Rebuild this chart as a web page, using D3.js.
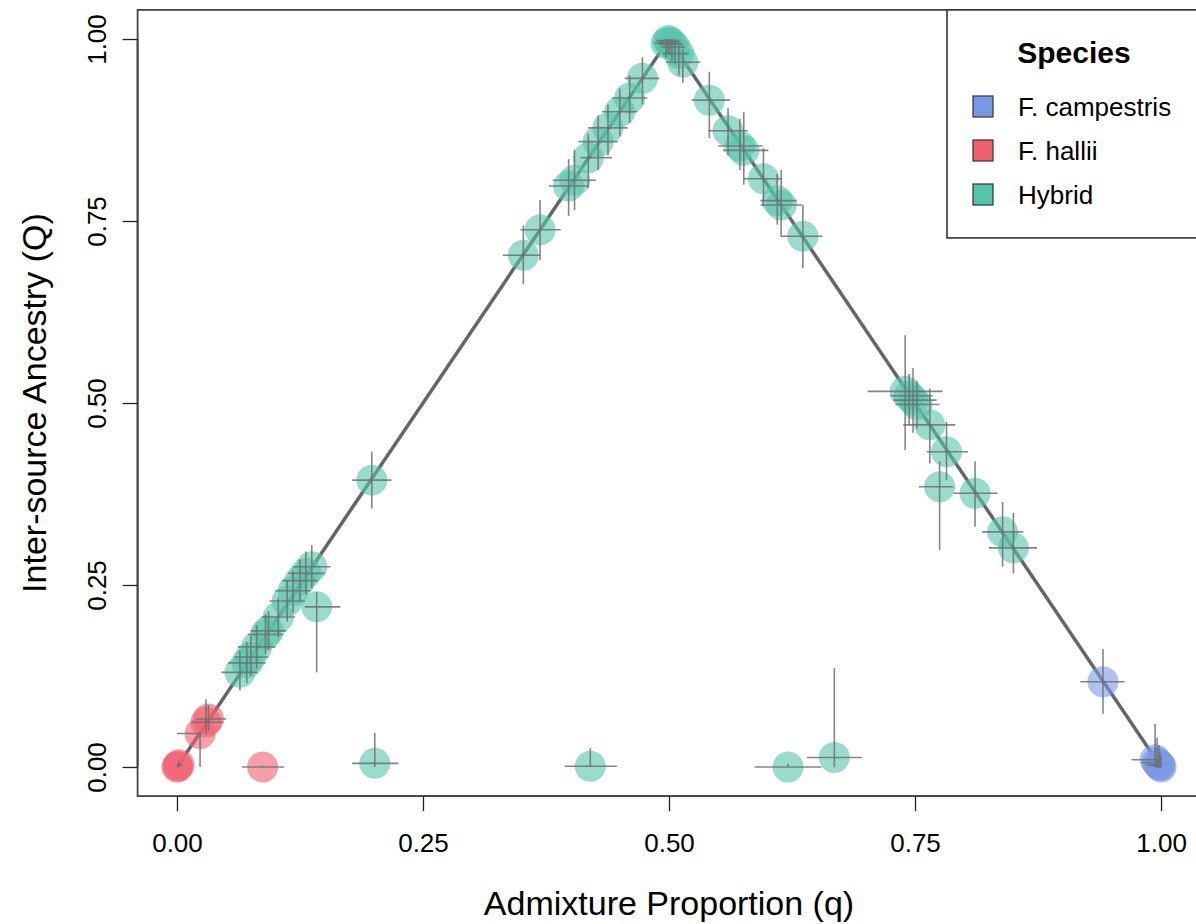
<!DOCTYPE html>
<html><head><meta charset="utf-8">
<script src="https://cdn.jsdelivr.net/npm/d3@7"></script>
<style>body{margin:0;background:#fff}svg{display:block}text{font-family:"Liberation Sans",Arial,sans-serif}</style>
</head><body>
<svg id="c" width="1196" height="924"></svg>
<script>
const species = ["F. campestris", "F. hallii", "Hybrid"];
const speciesColors = ["#7898E4", "#F25F70", "#55C4AA"];
const xTicks = [0, 0.25, 0.5, 0.75, 1];
const yTicks = [0, 0.25, 0.5, 0.75, 1];
const triangle = [[0, 0], [0.5, 1], [1, 0]];

// Points: species index, q, Q, q low, q high, Q low, Q high
const pSpecies = [1,1,1,1,1,1,1,
  2,2,2,2,2,2,2,2,2,2,2,2,2,2,
  2,2,2,2,2,2,2,2,2,2,
  2,2,2,2,2,2,2,
  2,2,2,2,2,2,2,2,2,
  2,2,2,2,2,2,2,2,2,
  0,0,0,0,0,0,
  2,2,2,2];
const pQ = [0.000,0.001,0.002,0.0235,0.0295,0.032,0.087,
  0.064,0.071,0.075,0.081,0.090,0.093,0.103,0.112,0.118,0.125,0.131,0.137,0.142,0.198,
  0.352,0.369,0.398,0.404,0.418,0.428,0.438,0.450,0.460,0.473,
  0.497,0.499,0.501,0.503,0.506,0.510,0.514,
  0.541,0.560,0.572,0.576,0.596,0.610,0.614,0.636,0.740,
  0.748,0.752,0.765,0.782,0.775,0.811,0.839,0.850,0.744,
  0.941,0.994,0.996,0.998,0.999,1.000,
  0.201,0.420,0.621,0.668];
const pInter = [0.000,0.001,0.003,0.046,0.0615,0.066,0.000,
  0.130,0.143,0.151,0.165,0.182,0.187,0.206,0.228,0.242,0.256,0.266,0.275,0.220,0.394,
  0.703,0.738,0.798,0.806,0.837,0.859,0.878,0.900,0.919,0.946,
  0.994,0.998,0.996,0.993,0.989,0.980,0.968,
  0.916,0.874,0.853,0.847,0.808,0.778,0.772,0.729,0.516,
  0.504,0.498,0.470,0.433,0.385,0.376,0.323,0.301,0.510,
  0.117,0.010,0.006,0.003,0.002,0.000,
  0.005,0.001,0.000,0.013];
const qLo = [0.000,0.000,0.000,0.000,0.015,0.020,0.066,
  0.045,0.052,0.058,0.062,0.072,0.075,0.086,0.094,0.100,0.107,0.113,0.118,0.130,0.178,
  0.331,0.349,0.378,0.382,0.410,0.408,0.418,0.432,0.442,0.455,
  0.485,0.487,0.489,0.490,0.492,0.494,0.497,
  0.523,0.540,0.550,0.555,0.576,0.593,0.593,0.613,0.702,
  0.728,0.730,0.738,0.762,0.754,0.789,0.818,0.825,0.725,
  0.918,0.970,0.980,0.985,0.990,0.995,
  0.178,0.394,0.587,0.640];
const qHi = [0.000,0.003,0.006,0.024,0.047,0.050,0.109,
  0.082,0.090,0.093,0.100,0.108,0.111,0.120,0.130,0.136,0.143,0.150,0.156,0.166,0.218,
  0.369,0.390,0.418,0.426,0.442,0.448,0.458,0.468,0.478,0.490,
  0.508,0.510,0.512,0.514,0.516,0.520,0.532,
  0.562,0.580,0.595,0.601,0.615,0.630,0.635,0.656,0.778,
  0.772,0.775,0.791,0.804,0.789,0.834,0.860,0.874,0.768,
  0.963,1.000,1.000,1.000,1.000,1.000,
  0.225,0.447,0.655,0.696];
const QLo = [0.000,0.000,0.000,0.000,0.045,0.050,0.000,
  0.105,0.115,0.125,0.135,0.155,0.160,0.178,0.200,0.212,0.227,0.237,0.245,0.130,0.355,
  0.663,0.696,0.757,0.765,0.795,0.820,0.840,0.866,0.885,0.910,
  0.975,0.980,0.978,0.970,0.965,0.950,0.940,
  0.864,0.840,0.820,0.800,0.770,0.745,0.730,0.685,0.435,
  0.459,0.465,0.417,0.394,0.298,0.330,0.275,0.266,0.470,
  0.073,0.000,0.000,0.000,0.000,0.000,
  0.000,0.000,0.000,0.000];
const QHi = [0.000,0.004,0.008,0.047,0.093,0.085,0.002,
  0.160,0.172,0.180,0.195,0.210,0.214,0.233,0.257,0.270,0.285,0.296,0.305,0.240,0.433,
  0.744,0.779,0.835,0.848,0.870,0.895,0.910,0.932,0.950,0.975,
  1.000,1.000,1.000,1.000,1.000,0.995,0.985,
  0.955,0.905,0.890,0.900,0.850,0.815,0.820,0.772,0.593,
  0.548,0.530,0.520,0.474,0.420,0.420,0.364,0.349,0.540,
  0.162,0.059,0.040,0.030,0.020,0.015,
  0.047,0.026,0.004,0.136];

const svg = d3.select("#c");
const xs = d3.scaleLinear().domain([-0.04, 1.04]).range([137.6, 1200.4]);
const ys = d3.scaleLinear().domain([-0.04, 1.04]).range([796.1, 9.9]);
const FONT = '"Liberation Sans",Arial,sans-serif';

const plot = svg.append("g");
plot.append("path")
  .attr("d", d3.line().x(d => xs(d[0])).y(d => ys(d[1]))(triangle))
  .attr("fill", "none").attr("stroke", "#666").attr("stroke-width", 3.5);

const pts = pQ.map((q, i) => ({s: pSpecies[i], q, Q: pInter[i], ql: qLo[i], qh: qHi[i], Ql: QLo[i], Qh: QHi[i]}));

plot.selectAll("circle.pt").data(pts).enter().append("circle")
  .attr("class", "pt")
  .attr("cx", d => xs(d.q)).attr("cy", d => ys(d.Q)).attr("r", 15.5)
  .attr("fill", d => speciesColors[d.s]).attr("fill-opacity", 0.6);

const eb = plot.append("g").attr("stroke", "#707070").attr("stroke-width", 1.6).attr("stroke-opacity", 0.85);
eb.selectAll("line.h").data(pts).enter().append("line")
  .attr("x1", d => xs(d.ql)).attr("x2", d => xs(d.qh))
  .attr("y1", d => ys(d.Q)).attr("y2", d => ys(d.Q));
eb.selectAll("line.v").data(pts).enter().append("line")
  .attr("x1", d => xs(d.q)).attr("x2", d => xs(d.q))
  .attr("y1", d => ys(d.Ql)).attr("y2", d => ys(d.Qh));

// frame
svg.append("rect").attr("x", 137.6).attr("y", 9.9).attr("width", 1200.4 - 137.6).attr("height", 796.1 - 9.9)
  .attr("fill", "none").attr("stroke", "#444").attr("stroke-width", 1.8);

// axes
const xAxis = d3.axisBottom(xs).tickValues(xTicks).tickFormat(d3.format(".2f")).tickSize(15).tickPadding(22);
const gx = svg.append("g").attr("transform", "translate(0,796.1)").call(xAxis);
gx.select(".domain").attr("d", `M${xs(0)},0H${xs(1)}`).attr("stroke", "#444").attr("stroke-width", 1.8);
gx.selectAll(".tick line").attr("stroke", "#222").attr("stroke-width", 1.3);
gx.selectAll(".tick text").attr("font-size", 26).attr("fill", "#000").attr("font-family", FONT);

const yAxis = d3.axisLeft(ys).tickValues(yTicks).tickFormat(d3.format(".2f")).tickSize(15);
const gy = svg.append("g").attr("transform", "translate(137.6,0)").call(yAxis);
gy.select(".domain").attr("d", `M0,${ys(0)}V${ys(1)}`).attr("stroke", "#444").attr("stroke-width", 1.8);
gy.selectAll(".tick line").attr("stroke", "#222").attr("stroke-width", 1.3);
gy.selectAll(".tick text").attr("font-size", 26).attr("fill", "#000")
  .attr("font-family", FONT)
  .attr("text-anchor", "middle")
  .attr("x", 0).attr("y", 0)
  .attr("transform", "translate(-41,0) rotate(-90)").attr("dy", "0.35em");

// axis titles
svg.append("text").attr("x", xs(0.5)).attr("y", 915).attr("text-anchor", "middle")
  .attr("font-size", 34).text("Admixture Proportion (q)");
svg.append("text").attr("transform", `translate(46,${ys(0.5)}) rotate(-90)`).attr("text-anchor", "middle")
  .attr("font-size", 34).text("Inter-source Ancestry (Q)");

// legend
const lg = svg.append("g");
lg.append("rect").attr("x", 947).attr("y", 9.9).attr("width", 260).attr("height", 228)
  .attr("fill", "#fff").attr("stroke", "#333").attr("stroke-width", 1.6);
lg.append("text").attr("x", 1074).attr("y", 63).attr("text-anchor", "middle")
  .attr("font-size", 30).attr("font-weight", "bold").text("Species");
species.forEach((s, i) => {
  const cy = 106.5 + i * 44;
  lg.append("rect").attr("x", 973).attr("y", cy - 10.5).attr("width", 20).attr("height", 21)
    .attr("fill", speciesColors[i]).attr("stroke", "#333").attr("stroke-width", 1.2);
  lg.append("text").attr("x", 1018).attr("y", cy).attr("dy", "0.35em")
    .attr("font-size", 26).text(s);
});
</script>
</body></html>
